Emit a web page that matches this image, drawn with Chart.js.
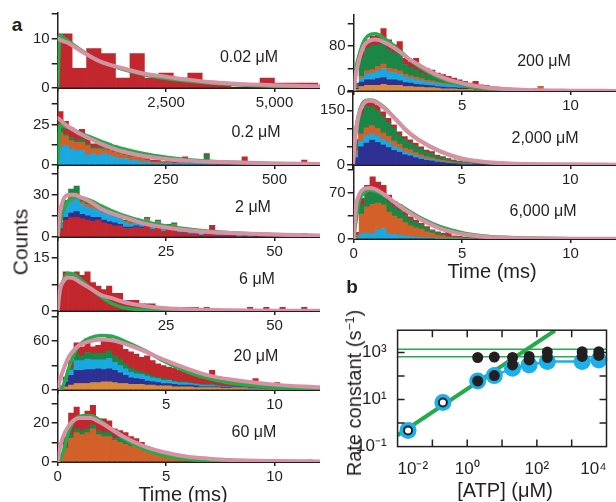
<!DOCTYPE html>
<html>
<head>
<meta charset="utf-8">
<script src="https://cdn.jsdelivr.net/npm/chart.js@4.4.1/dist/chart.umd.min.js"></script>
<style>
  body { margin: 0; background: #fff; }
  #fig { position: relative; width: 616px; height: 502px; overflow: hidden; font-family: 'Liberation Sans', Arial, sans-serif; color: #231f20; }
  #fig canvas { display: block; }
  .t { position: absolute; transform: translate(-50%, -50%); white-space: nowrap; line-height: 1; z-index: 5; }
  .rot { transform: translate(-50%, -50%) rotate(-90deg); }
  sup { font-size: 0.62em; vertical-align: 0.55em; line-height: 0; }
</style>
</head>
<body>
<div id="fig">
  <div class="t" style="left:17px;top:24px;font-size:19px;font-weight:bold">a</div>
  <div class="t" style="left:352px;top:286px;font-size:19px;font-weight:bold">b</div>
  <div class="t" style="left:249px;top:57px;font-size:16px">0.02 μM</div>
  <div class="t" style="left:256px;top:132px;font-size:16px">0.2 μM</div>
  <div class="t" style="left:253px;top:207px;font-size:16px">2 μM</div>
  <div class="t" style="left:257px;top:279px;font-size:16px">6 μM</div>
  <div class="t" style="left:256px;top:356px;font-size:16px">20 μM</div>
  <div class="t" style="left:254px;top:432px;font-size:16px">60 μM</div>
  <div class="t" style="left:544px;top:61px;font-size:16px">200 μM</div>
  <div class="t" style="left:545px;top:138px;font-size:16px">2,000 μM</div>
  <div class="t" style="left:543px;top:211px;font-size:16px">6,000 μM</div>
  <div class="t rot" style="left:20px;top:242px;font-size:21px">Counts</div>
  <div class="t" style="left:183px;top:494px;font-size:20px">Time (ms)</div>
  <div class="t" style="left:492px;top:271px;font-size:20px">Time (ms)</div>
  <div class="t rot" style="left:354px;top:393px;font-size:20px">Rate constant (s<sup>−1</sup>)</div>
  <div class="t" style="left:505px;top:490px;font-size:20px">[ATP] (μM)</div>
</div>
<script>
const INK = '#231f20';
const COL = { red: '#c1272d', green: '#1a8746', cyan: '#19a8e0', navy: '#2e3192', orange: '#d35f29', tan: '#d98a3a' };
const FIT_G = '#22ad4a';
const FIT_P = '#d891a4';
const BLUE = '#1cb0ea';

Chart.defaults.font.family = "'Liberation Sans', Arial, sans-serif";
Chart.defaults.font.size = 15;
Chart.defaults.color = INK;

// time points of the fitted curves (ms, before panel scaling)
const fitT = [0, 0.1, 0.25, 0.5, 0.75, 1, 1.5, 2, 2.5, 3, 4, 5, 6, 7, 8, 10, 12.1];

// 0.02 uM
const c002_red = [11, 4, 8, 7, 2, 7, 2, 3, 2, 3, 1, 1, 0, 0, 2, 1, 1, 1];
const c002_fitG = [0, 10.7, 10.3, 9.5, 8.7, 7.9, 6.5, 5.3, 4.5, 3.8, 2.7, 1.9, 1.4, 1, 0.7, 0.35, 0.2];
const c002_fitP = [10, 9.8, 9.5, 9.1, 8.4, 7.7, 6.4, 5.3, 4.6, 4, 2.9, 2.3, 1.7, 1.2, 0.9, 0.55, 0.35];

// 0.2 uM
const c02_cyan = [11,12,10,9,9,6,7,6,7,6,5,4,4,3,3,2,2,1,1,1,1,1,1,1,1,1,1,1,0,1,0,1,0,0,0,0,0,0,0,0,0,0,0,0,0,0,0,0];
const c02_orange = [9,6,5,5,5,6,3,4,3,3,3,3,2,2,2,2,1,1,1,1,1,0,1,1,0,1,0,1,1,0,1,0,0,1,1,0,1,0,0,0,1,0,0,0,0,0,0,0];
const c02_green = [3,1,2,1,2,1,1,1,1,1,1,1,1,3,0,0,0,0,0,0,0,0,0,0,0,0,0,4,0,0,0,0,1,0,0,0,0,0,1,0,0,0,0,1,0,0,0,1];
const c02_red = [10,8,6,5,6,3,2,2,3,3,3,2,1,1,1,1,1,1,1,0,1,1,1,3,1,1,1,1,1,1,0,1,0,1,4,1,0,1,0,1,0,1,0,0,1,3,0,0];
const c02_fitG = [0, 24.5, 24, 23, 21.5, 20, 17.3, 14.6, 12, 10, 6.9, 4.8, 3.3, 2.3, 1.7, 1, 0.4];
const c02_fitP = [29, 28, 26, 23.6, 21.5, 19.4, 16.2, 13, 10.4, 8.3, 5.4, 3.75, 2.7, 2, 1.7, 1, 0.6];

// 2 uM
const c2_red = [5,12,14,14,13,12,11,12,10,9,8,8,6,6,7,6,9,5,7,4,5,6,3,3,2,2,1,2,8,1,1,1,1,0,1,0,1,0,0,1,1,1,0,1,0,2,0,0];
const c2_navy = [1,2,3,4,3,3,3,2,2,2,2,1,1,1,1,1,1,0,1,0,1,0,0,0,0,0,0,0,0,0,0,0,0,0,0,0,0,0,0,0,0,0,0,0,0,0,0,0];
const c2_cyan = [3,7,8,9,7,6,6,5,5,5,5,4,3,2,3,2,2,2,2,1,2,2,1,2,1,1,1,1,0,1,1,2,0,1,0,0,0,0,0,0,0,0,0,0,0,0,0,0];
const c2_orange = [0,2,4,4,2,2,2,2,1,1,1,1,1,1,1,0,1,0,1,0,0,1,0,0,0,0,0,0,0,0,0,0,0,0,0,0,0,0,0,0,0,0,0,0,0,0,0,0];
const c2_green = [1,3,5,5,3,3,2,2,2,2,2,1,1,1,1,1,1,1,1,1,1,1,1,0,0,0,0,0,0,0,0,0,0,0,0,1,0,0,1,0,1,0,0,0,0,0,0,0];
const c2_fitG = [0, 8, 18, 26, 28, 28, 26, 22, 18.5, 15.5, 11, 7.8, 5.6, 4, 3, 1.7, 0.8];
const c2_fitP = [0, 17, 26, 30, 30, 28.6, 25, 20, 16.7, 14.3, 9.5, 6.7, 4.8, 3.6, 2.9, 1.7, 1];

// 6 uM
const c6_red = [7,11,10,11,10,11,8,7,6,7,5,5,3,3,3,2,2,2,1,1,1,1,1,1,1,1,0,1,0,0,0,0,0,0,0,1,0,0,1,0,0,1,0,0,0,1,0,0];
const c6_fitG = [0, 5, 8.5, 10.6, 10.3, 9.2, 6.4, 4, 2.1, 1, 0.3, 0.1, 0, 0, 0, 0, 0];
const c6_fitP = [0, 6, 8.2, 9.4, 9.2, 8.2, 6.4, 4.5, 3.6, 2.6, 1.4, 0.75, 0.5, 0.3, 0.2, 0.1, 0.05];

// 20 uM
const c20_tan = [2,4,6,8,8,8,9,9,10,10,9,8,8,7,7,7,6,6,5,5,5,4,4,4,4,3,3,3,3,3,2,2,2,2,2,1,1,1,1,1,1,1,0,0,0,0,0,0];
const c20_navy = [2,6,12,16,16,17,16,17,15,16,15,13,10,8,7,6,5,4,4,3,3,3,2,2,2,2,1,1,1,1,1,1,0,0,0,0,0,0,0,0,0,0,0,0,0,0,0,0];
const c20_cyan = [0,2,6,12,12,13,12,11,12,13,10,9,8,7,6,6,6,5,5,4,4,3,3,3,2,2,2,2,2,1,1,1,1,1,1,1,1,0,0,0,0,0,0,0,0,0,0,0];
const c20_green = [0,1,3,8,6,8,8,8,8,9,8,8,6,5,4,3,3,2,2,2,1,1,1,1,1,1,1,0,1,0,0,0,0,0,0,0,0,0,0,0,0,0,0,0,0,0,0,0];
const c20_red = [1,3,9,14,11,17,8,10,16,19,17,20,18,20,20,18,22,19,16,16,15,16,14,12,12,12,11,12,17,11,10,9,8,8,6,6,12,5,4,4,8,3,3,3,3,5,2,2];
const c20_fitG = [0, 1, 5, 26, 44, 55, 64, 67, 66, 61, 48.6, 34, 22, 13.6, 8.2, 3.3, 1.2];
const c20_fitP = [0, 12, 24, 40, 49, 55, 60, 62, 61, 57.6, 47.7, 36, 26, 17.7, 12.8, 6.6, 3.3];

// 60 uM
const c60_orange = [2,7,12,15,14,15,17,14,13,13,11,10,9,8,8,7,6,5,4,3,3,2,2,1,1,1,1,0,1,0,1,0,0,0,0,1,0,0,0,0,0,0,0,0,0,0,0,0];
const c60_green = [0,1,2,2,2,2,2,2,2,2,1,2,2,2,1,1,1,1,1,1,0,0,0,0,0,0,0,0,0,0,0,0,0,0,0,0,0,0,0,0,0,0,0,0,0,0,1,0];
const c60_red = [2,5,11,11,7,9,10,6,7,6,5,4,4,3,3,2,1,1,1,1,1,1,0,1,0,0,0,1,0,0,0,0,1,0,0,0,0,1,1,0,0,0,0,0,0,0,0,0];
const c60_fitG = [0, 1, 5, 15, 21, 23.4, 23.7, 21, 16.6, 12.4, 6.4, 3, 1.4, 0.5, 0.3, 0, 0];
const c60_fitP = [0, 7, 13, 18.3, 21.4, 22.5, 22.5, 20, 16.6, 13.2, 8, 4.7, 2.7, 1.7, 1, 0.5, 0.3];

// 200 uM
const c200_tan = [3,8,10,10,10,12,10,10,10,8,8,7,7,6,6,5,4,4,4,3,3,3,2,2,2,2,1,1,1,1,1,0,0,1,0,0,0,1,0,0,0,0,0,0,0,0,0,0];
const c200_navy = [2,8,10,10,12,12,10,10,8,7,6,5,4,4,3,3,3,2,2,2,2,1,1,1,1,0,0,0,0,0,0,0,0,0,0,0,0,0,0,0,0,0,0,0,0,0,0,0];
const c200_cyan = [2,6,10,12,14,16,14,13,12,10,9,8,7,6,6,5,5,5,4,4,3,2,2,2,1,1,1,1,1,1,0,1,0,0,0,0,0,0,0,0,0,0,0,0,0,0,0,0];
const c200_orange = [0,4,6,6,8,8,6,6,6,5,4,4,4,3,3,3,2,2,2,1,1,1,1,0,1,1,0,0,0,0,0,0,1,0,8,0,1,0,0,0,1,0,0,1,0,0,0,0];
const c200_green = [4,34,40,44,38,40,34,29,32,17,15,14,10,9,7,6,5,4,3,3,3,2,2,2,1,1,1,1,0,0,0,0,0,0,0,1,0,0,1,0,0,1,0,0,0,1,0,0];
const c200_red = [3,10,15,15,18,23,17,14,20,11,10,20,12,12,12,10,10,9,8,7,5,5,9,4,4,3,4,3,3,2,3,2,2,3,0,1,1,1,1,2,1,0,2,1,2,1,2,1];
const c200_fitG = [0, 38, 64, 91, 100, 101.5, 91, 76, 58.5, 43.6, 22.7, 10.7, 4.8, 1.8, 0.6, 0.1, 0];
const c200_fitP = [0, 28.7, 55.5, 82, 89.5, 91.3, 85, 73, 58.5, 46.6, 25.7, 13.7, 6.6, 3.6, 1.8, 0.6, 0.2];

// 2,000 uM
const c2000_navy = [20,50,60,68,62,55,48,40,35,28,25,20,16,13,11,8,7,5,4,3,2,2,1,1,1,1,0,0,0,0,0,0,0,0,0,0,0,0,0,0,0,0,0,0,0,0,0,0];
const c2000_cyan = [10,15,20,18,18,15,15,12,10,8,7,6,5,4,4,3,2,2,1,1,1,1,1,0,0,0,0,0,0,0,0,0,0,0,0,0,0,0,0,0,0,0,0,0,0,0,0,0];
const c2000_orange = [10,20,22,22,20,18,16,14,12,10,10,8,7,6,5,4,4,3,2,2,2,1,1,1,1,1,1,1,0,0,1,0,0,0,0,0,0,0,0,0,0,0,0,0,0,0,0,0];
const c2000_green = [25,55,60,52,50,45,38,35,26,24,20,19,16,13,12,8,7,5,4,3,2,2,2,2,1,1,2,1,1,2,1,2,1,2,1,2,3,0,3,0,3,2,0,3,0,3,2,0];
const c2000_red = [5,15,16,14,15,13,11,9,8,8,7,7,6,5,5,4,3,3,3,2,2,1,1,1,5,1,1,1,6,1,1,1,1,0,1,0,0,0,0,0,0,0,0,0,0,0,0,0];
const c2000_fitG = [0, 82, 137, 174, 178, 176, 155, 123, 91, 69, 37, 16.5, 7.3, 3.7, 1.8, 0.9, 0.5];
const c2000_fitP = [0, 73, 133, 169, 176, 174, 152, 123.5, 93, 70, 38, 18, 9, 4.6, 2.7, 1.8, 0.9];

// 6,000 uM
const c6000_cyan = [2,8,9,8,14,16,8,7,6,5,4,3,3,2,2,1,1,1,1,1,0,0,0,0,0,0,0,0,0,0,0,0,0,0,0,0,0,0,0,0,0,0,0,0,0,0,0,0];
const c6000_orange = [4,30,40,45,41,36,33,28,25,20,16,14,12,9,7,5,4,2,2,1,1,1,0,1,0,0,0,0,0,0,0,0,0,0,0,0,0,0,0,0,0,0,0,0,0,0,0,0];
const c6000_green = [1,14,20,22,20,18,16,14,13,12,10,9,7,6,4,4,3,2,1,1,1,1,1,0,1,1,1,1,1,1,1,1,1,1,1,1,1,1,1,1,1,1,0,0,0,0,0,0];
const c6000_red = [3,10,13,20,12,12,10,8,8,5,4,3,2,2,1,1,1,7,1,1,1,0,1,0,0,0,0,0,0,0,0,0,0,0,0,0,0,0,0,0,0,0,0,0,0,1,0,0];
const c6000_fitG = [0, 26, 57, 71, 74.6, 73, 64.5, 54, 44, 34, 18.8, 9.6, 4.6, 2.5, 1.5, 0.5, 0.2];
const c6000_fitP = [0, 47, 67, 77, 78, 76, 66, 53, 41.6, 31.5, 16, 7.6, 3.6, 2, 1, 0.5, 0.2];

// panel b
const atp = [0.02, 0.2, 2, 6, 20, 60, 200, 2000, 6000];
const rateBlue = [0.49, 7.5, 62, 105, 215, 300, 420, 420, 490];
const rateBlackLow = [null, null, 62, 105, 300, 490, 620, 690, 760];
const rateBlackHigh = [null, null, 620, 650, 620, 690, 1050, 1100, 1100];
const openAtp = [0.02, 0.2];
const openRate = [0.49, 7.5];
const bindFitX = [0.01, 331];
const bindFitY = [0.3, 8700];
const plateaus = [1400, 660];

const panels = [
  { scale: 500, binW: 1000 / 3, ymax: 15.2, yTicks: [0, 5, 10, 15], yLab: [0, 10], layers: [['red', c002_red]], g: c002_fitG, p: c002_fitP, frame: [57.7, 13, 262.3, 74.7] },
  { scale: 50, binW: 12.5, ymax: 47.5, yTicks: [0, 12.5, 25, 37.5], yLab: [0, 25], layers: [['cyan', c02_cyan], ['orange', c02_orange], ['green', c02_green], ['red', c02_red]], g: c02_fitG, p: c02_fitP, frame: [57.7, 87.7, 262.3, 77] },
  { scale: 5, binW: 1.25, ymax: 51, yTicks: [0, 15, 30, 45], yLab: [0, 30], layers: [['red', c2_red], ['navy', c2_navy], ['cyan', c2_cyan], ['orange', c2_orange], ['green', c2_green]], g: c2_fitG, p: c2_fitP, frame: [57.7, 164.7, 262.3, 72] },
  { scale: 5, binW: 1.25, ymax: 20.8, yTicks: [0, 7.5, 15], yLab: [0, 15], layers: [['red', c6_red]], g: c6_fitG, p: c6_fitP, frame: [57.7, 236.7, 262.3, 74] },
  { scale: 1, binW: 0.25, ymax: 97, yTicks: [0, 30, 60, 90], yLab: [0, 60], layers: [['tan', c20_tan], ['navy', c20_navy], ['cyan', c20_cyan], ['green', c20_green], ['red', c20_red]], g: c20_fitG, p: c20_fitP, frame: [57.7, 310.7, 262.3, 78.6] },
  { scale: 1, binW: 0.25, ymax: 37.3, yTicks: [0, 10, 20, 30], yLab: [0, 20], layers: [['orange', c60_orange], ['green', c60_green], ['red', c60_red]], g: c60_fitG, p: c60_fitP, frame: [57.7, 389.3, 262.3, 73.4], bottom: true },
  { scale: 1, binW: 0.25, ymax: 135, yTicks: [0, 40, 80, 120], yLab: [0, 80], layers: [['tan', c200_tan], ['navy', c200_navy], ['cyan', c200_cyan], ['orange', c200_orange], ['green', c200_green], ['red', c200_red]], g: c200_fitG, p: c200_fitP, frame: [353.3, 15, 262.7, 75.7] },
  { scale: 1, binW: 0.25, ymax: 203, yTicks: [0, 50, 100, 150, 200], yLab: [0, 150], layers: [['navy', c2000_navy], ['cyan', c2000_cyan], ['orange', c2000_orange], ['green', c2000_green], ['red', c2000_red]], g: c2000_fitG, p: c2000_fitP, frame: [353.3, 90.7, 262.7, 74] },
  { scale: 1, binW: 0.25, ymax: 113, yTicks: [0, 35, 70, 105], yLab: [0, 70], layers: [['cyan', c6000_cyan], ['orange', c6000_orange], ['green', c6000_green], ['red', c6000_red]], g: c6000_fitG, p: c6000_fitP, frame: [353.3, 164.7, 262.7, 74.3], bottom: true }
];

function histConfig(p) {
  const datasets = p.layers.map(([c, vals]) => ({
    type: 'bar',
    data: vals.map((v, i) => ({ x: (i + 0.5) * p.binW, y: v })),
    backgroundColor: COL[c], borderWidth: 0, barPercentage: 1, categoryPercentage: 1, order: 3
  }));
  const curve = (vals, color, width, stack, order) => ({
    type: 'line', data: fitT.map((t, i) => ({ x: t * p.scale, y: vals[i] })),
    borderColor: color, borderWidth: width, pointRadius: 0, cubicInterpolationMode: 'monotone',
    borderCapStyle: 'round', stack, order
  });
  datasets.push(curve(p.g, FIT_G, 3.5, 'fitG', 2));
  datasets.push(curve(p.p, FIT_P, 4, 'fitP', 1));
  return {
    type: 'bar',
    data: { datasets },
    options: {
      responsive: false, animation: false, events: [],
      plugins: { legend: { display: false }, tooltip: { enabled: false } },
      layout: { padding: 0 },
      scales: {
        x: {
          type: 'linear', min: 0, max: 12.1 * p.scale, offset: false, stacked: true,
          grid: { offset: false, drawOnChartArea: false, tickLength: 4, color: INK, lineWidth: 1.5 },
          border: { color: INK, width: 2 },
          afterBuildTicks: s => { s.ticks = [0, 5, 10].map(v => ({ value: v * p.scale })); },
          ticks: { autoSkip: false, maxRotation: 0, padding: 2, font: { size: 15 },
            callback: v => v === 0 ? (p.bottom ? '0' : '') : v.toLocaleString('en-US') }
        },
        y: {
          min: 0, max: p.ymax, stacked: true,
          grid: { drawOnChartArea: false, tickLength: 6, color: INK, lineWidth: 1.5 },
          border: { color: INK, width: 1.5 },
          afterBuildTicks: s => { s.ticks = p.yTicks.map(v => ({ value: v })); },
          ticks: { autoSkip: false, padding: 2, font: { size: 15 },
            callback: v => p.yLab.includes(v) ? String(v) : '' }
        }
      }
    }
  };
}

const SUP = { '-': '⁻', '0': '⁰', '1': '¹', '2': '²', '3': '³', '4': '⁴' };
const decadeLabel = shown => v => {
  const e = Math.round(Math.log10(v));
  return shown.includes(e) ? '10' + String(e).split('').map(ch => SUP[ch]).join('') : '';
};

const boxTicks = {
  id: 'boxTicks',
  afterDatasetsDraw(chart) {
    const { ctx, chartArea: a, scales: { x, y } } = chart;
    const len = 7;
    ctx.save();
    ctx.strokeStyle = INK;
    ctx.lineWidth = 1.5;
    ctx.strokeRect(a.left, a.top, a.right - a.left, a.bottom - a.top);
    ctx.beginPath();
    [0.1, 1, 10, 100, 1000].forEach(v => {
      const px = x.getPixelForValue(v);
      ctx.moveTo(px, a.bottom); ctx.lineTo(px, a.bottom - len);
      ctx.moveTo(px, a.top); ctx.lineTo(px, a.top + len);
    });
    [1, 10, 100, 1000].forEach(v => {
      const py = y.getPixelForValue(v);
      ctx.moveTo(a.left, py); ctx.lineTo(a.left + len, py);
      ctx.moveTo(a.right, py); ctx.lineTo(a.right - len, py);
    });
    ctx.stroke();
    ctx.restore();
  }
};

function rateConfig() {
  const pts = (xs, ys) => xs.map((x, i) => ({ x, y: ys[i] })).filter(d => d.y != null);
  return {
    type: 'scatter',
    data: {
      datasets: [
        { type: 'line', data: pts(bindFitX, bindFitY), borderColor: FIT_G, borderWidth: 4, pointRadius: 0, order: 9 },
        ...plateaus.map(r => ({ type: 'line', data: [{ x: 0.01, y: r }, { x: 1e4, y: r }], borderColor: FIT_G, borderWidth: 1.5, pointRadius: 0, order: 9 })),
        { type: 'line', data: pts(atp.slice(2), rateBlue.slice(2)), borderColor: BLUE, borderWidth: 2.5, pointRadius: 0, order: 8 },
        { data: pts(atp, rateBlue), backgroundColor: BLUE, borderWidth: 0, pointRadius: 8.5, order: 7, clip: false },
        { data: pts(atp, rateBlackLow), backgroundColor: INK, borderWidth: 0, pointRadius: 5.5, order: 6, clip: false },
        { data: pts(atp, rateBlackHigh), backgroundColor: INK, borderWidth: 0, pointRadius: 5.5, order: 6, clip: false },
        { data: pts(openAtp, openRate), backgroundColor: '#fff', borderColor: INK, borderWidth: 2, pointRadius: 4, order: 5, clip: false }
      ]
    },
    options: {
      responsive: false, animation: false, events: [],
      plugins: { legend: { display: false }, tooltip: { enabled: false } },
      layout: { padding: 0 },
      scales: {
        x: {
          type: 'logarithmic', min: 0.01, max: 1e4,
          grid: { display: false }, border: { display: false },
          afterBuildTicks: s => { s.ticks = [0.01, 0.1, 1, 10, 100, 1000, 10000].map(v => ({ value: v })); },
          ticks: { autoSkip: false, maxRotation: 0, padding: 5, align: 'inner', font: { size: 17 }, callback: decadeLabel([-2, 0, 2, 4]) }
        },
        y: {
          type: 'logarithmic', min: 0.1, max: 9000,
          grid: { display: false }, border: { display: false },
          afterBuildTicks: s => { s.ticks = [0.1, 1, 10, 100, 1000].map(v => ({ value: v })); },
          ticks: { autoSkip: false, padding: 3, font: { size: 17 }, callback: decadeLabel([-1, 1, 3]) }
        }
      }
    },
    plugins: [boxTicks]
  };
}

const fig = document.getElementById('fig');

// build a chart, then resize and move its canvas so the plot area lands on the frame
function mount(frame, build) {
  const [fx, fy, fw, fh] = frame;
  const wrap = document.createElement('div');
  wrap.style.position = 'absolute';
  const cv = document.createElement('canvas');
  wrap.appendChild(cv);
  fig.insertBefore(wrap, fig.firstChild);
  let w = Math.round(fw + 70), h = Math.round(fh + 40);
  const size = () => {
    cv.width = w; cv.height = h;
    cv.style.width = w + 'px'; cv.style.height = h + 'px';
  };
  size();
  let chart = new Chart(cv, build());
  let a = chart.chartArea;
  w = Math.round(w + fw - (a.right - a.left));
  h = Math.round(h + fh - (a.bottom - a.top));
  chart.destroy();
  size();
  chart = new Chart(cv, build());
  a = chart.chartArea;
  wrap.style.left = (fx - a.left) + 'px';
  wrap.style.top = (fy - a.top) + 'px';
}

// insert in reverse so later panels stack above earlier ones
const jobs = panels.map(p => [p.frame, () => histConfig(p)]);
jobs.push([[397.7, 329.7, 209, 116], rateConfig]);
jobs.reverse().forEach(([f, b]) => mount(f, b));
</script>
</body>
</html>
